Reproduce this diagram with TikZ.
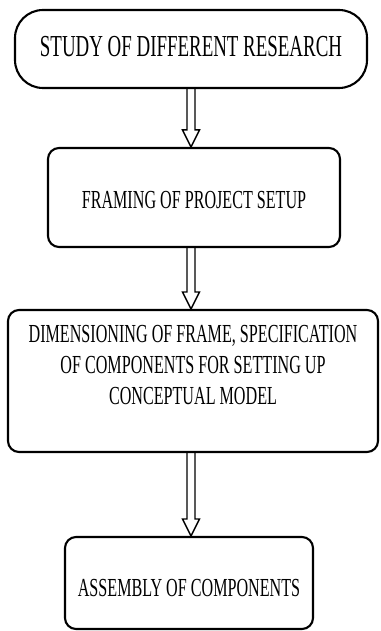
\documentclass[tikz,border=0pt]{standalone}
\usepackage{fontspec}
\newfontfamily\boxfont[FakeStretch=0.62]{Liberation Serif}
\usetikzlibrary{calc}

\tikzset{
  stepbox/.style={draw, line width=2.1pt, rounded corners=11pt, inner sep=0pt},
  boxtext/.style={font=\boxfont\fontsize{26}{31}\selectfont, align=center, inner sep=0pt},
  flowarrow/.style={line width=1.4pt, line join=miter, to path={
    let \p1=(\tikztostart), \p2=(\tikztotarget) in
    (\x1-4pt,\y1) -- (\x1-4pt,\y2+17pt) -- (\x1-8.5pt,\y2+17pt) -- (\x1,\y2)
    -- (\x1+8.5pt,\y2+17pt) -- (\x1+4pt,\y2+17pt) -- (\x1+4pt,\y1)}}
}

\begin{document}
\begin{tikzpicture}[x=1pt,y=-1pt]
\useasboundingbox (0,0) rectangle (380,631);

% boxes
\node[stepbox, rounded corners=28pt, minimum width=352pt, minimum height=78pt,
  label={[boxtext, font=\boxfont\fontsize{30.5}{34}\selectfont, yshift=2pt]center:STUDY OF DIFFERENT RESEARCH}]
  (research) at (191,49) {};
\node[stepbox, minimum width=292pt, minimum height=99pt,
  label={[boxtext, yshift=-3pt]center:FRAMING OF PROJECT SETUP}]
  (framing) at (194,197.5) {};
\node[stepbox, minimum width=370pt, minimum height=142pt,
  label={[boxtext, yshift=16pt]center:{DIMENSIONING OF FRAME, SPECIFICATION\\OF COMPONENTS FOR SETTING UP\\CONCEPTUAL MODEL}}]
  (dimension) at (193,381) {};
\node[stepbox, minimum width=248pt, minimum height=92pt,
  label={[boxtext, yshift=-5pt]center:ASSEMBLY OF COMPONENTS}]
  (assembly) at (189,583) {};

% arrows
\draw[flowarrow] (research.south) to (research.south |- framing.north);
\draw[flowarrow] (framing.south -| research.south) to (research.south |- dimension.north);
\draw[flowarrow] (dimension.south -| research.south) to (research.south |- assembly.north);

\end{tikzpicture}
\end{document}
